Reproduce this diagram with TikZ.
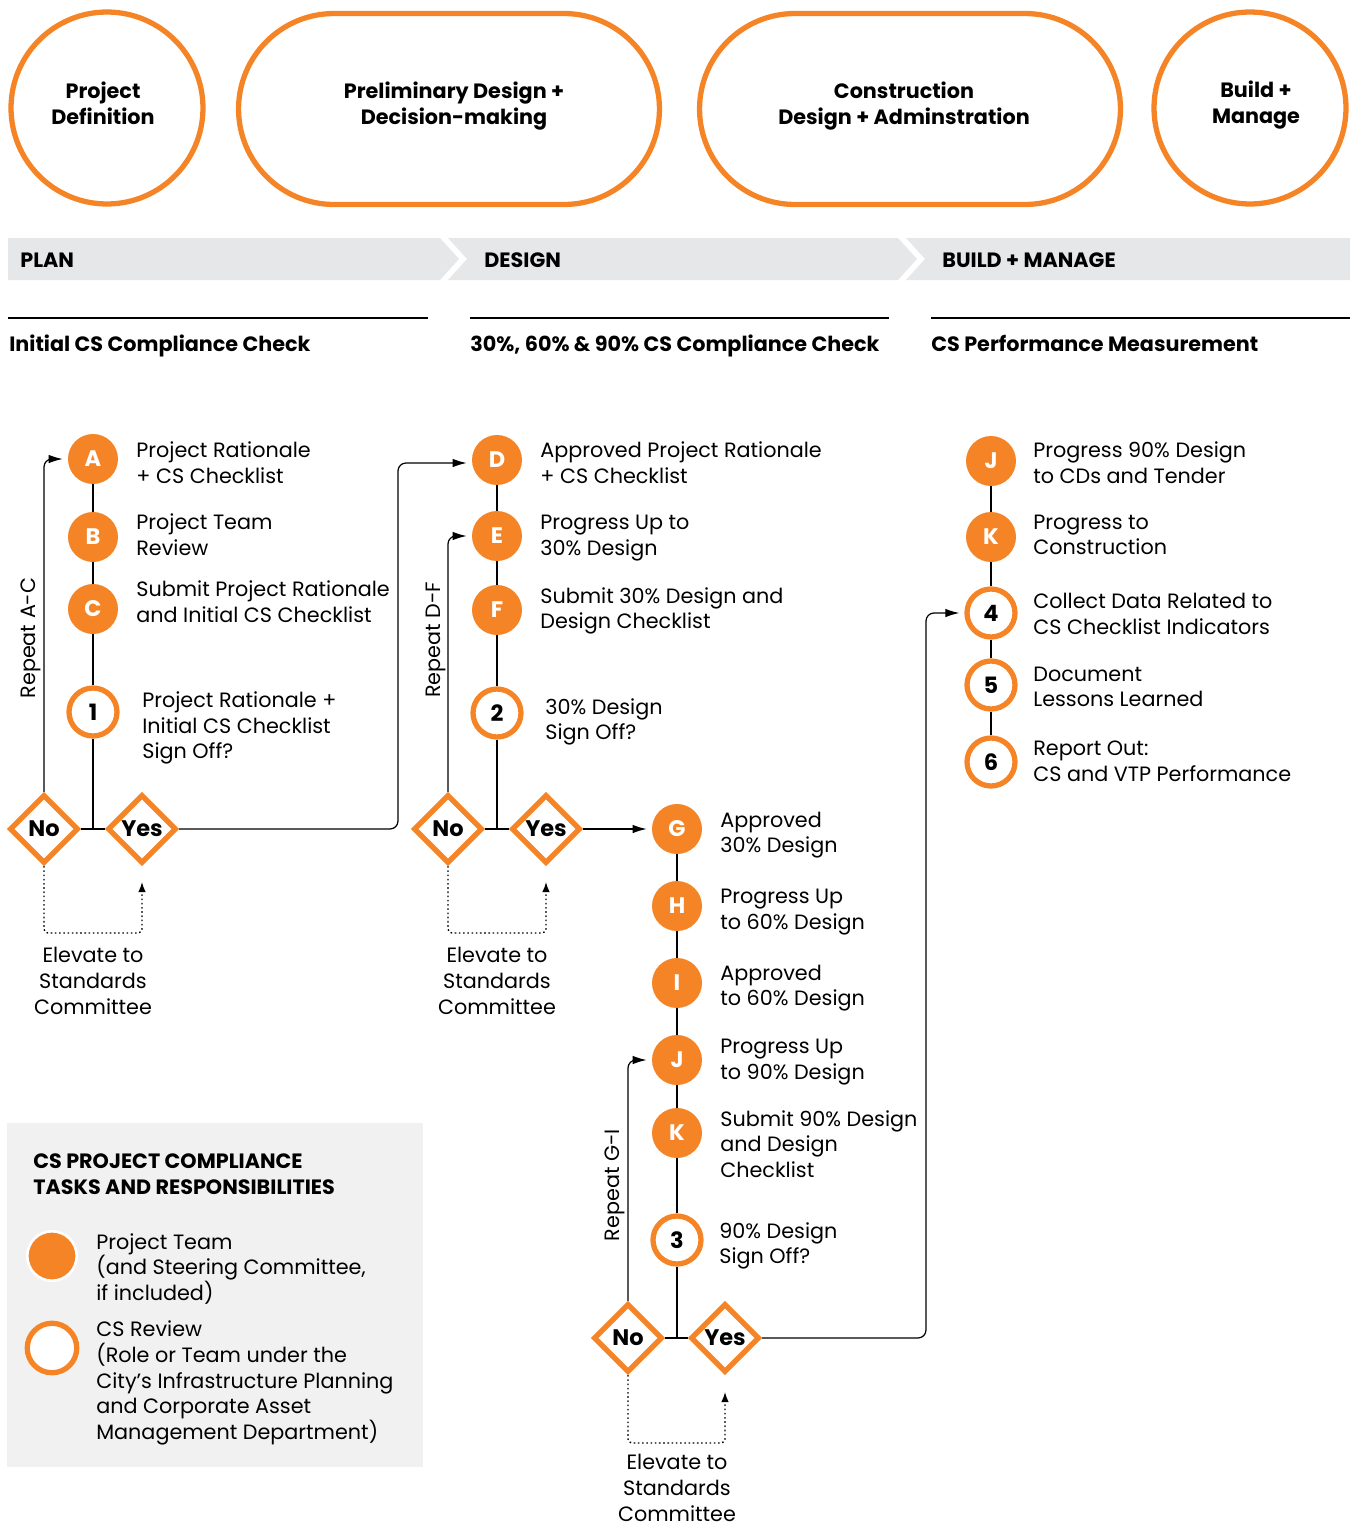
\documentclass[tikz,border=0pt]{standalone}
\usepackage{fontspec}
\setmainfont{Poppins}
\usetikzlibrary{positioning,shapes.geometric,arrows.meta}
\definecolor{csorange}{HTML}{F58426}
\definecolor{band}{HTML}{E6E7E8}
\definecolor{legendbg}{HTML}{F1F1F1}
\newcommand{\bodyfont}{\fontsize{11.8}{14.6}\selectfont}
\newcommand{\markfont}{\bfseries\fontsize{12.8}{14}\selectfont}
\tikzset{
  >={Latex[length=2.8mm,width=1.7mm]},
  task/.style   ={circle, fill=csorange, minimum size=1cm, inner sep=0pt, text=white, font=\markfont},
  review/.style ={circle, draw=csorange, line width=3pt, fill=white, minimum size=0.96cm, inner sep=0pt, font=\markfont},
  choice/.style ={diamond, aspect=1, draw=csorange, line width=3pt, fill=white, minimum size=1.38cm, inner sep=0pt, font=\markfont},
  desc/.style   ={anchor=west, align=left, inner sep=0pt, font=\bodyfont},
  flow/.style   ={line width=0.7pt, rounded corners=1.6mm},
  elev/.style   ={line width=0.8pt, dash pattern=on 0.9pt off 1.5pt, rounded corners=0.8mm, -{Latex[length=2mm,width=1.5mm]}},
  phase/.style  ={draw=csorange, line width=3pt},
  phasetext/.style={align=center, inner sep=0pt, font=\bfseries\bodyfont},
  head/.style   ={anchor=base west, inner sep=0pt, font=\bfseries\bodyfont},
}

\begin{document}
\begin{tikzpicture}[x=0.02cm, y=-0.02cm]
  \useasboundingbox (0,0) rectangle (1352,1528);

  % ---------- phases ----------
  \node[phase, circle, minimum size=3.84cm] (pdef) at (107,108) {};
  \node[phase, rectangle, rounded corners=1.91cm, minimum width=8.42cm, minimum height=3.82cm] (prelim) at (449,109) {};
  \node[phase, rectangle, rounded corners=1.91cm, minimum width=8.42cm, minimum height=3.82cm] (constr) at (910,109) {};
  \node[phase, circle, minimum size=3.84cm] (build) at (1250,108) {};
  \node[phasetext] (tpdef) at (103,103) {Project\\Definition};
  \node[phasetext] (tprelim) at (454,106) {Preliminary Design +\\Decision-making};
  \node[phasetext] (tconstr) at (904,106) {Construction\\Design + Adminstration};
  \node[phasetext] (tbuild) at (1256,105) {Build +\\Manage};

  % ---------- stage band ----------
  \fill[band] (8,238) -- (440,238) -- (459,259) -- (440,280) -- (8,280) -- cycle;
  \fill[band] (448,238) -- (898,238) -- (917,259) -- (898,280) -- (448,280) -- (467,259) -- cycle;
  \fill[band] (906,238) -- (1350,238) -- (1350,280) -- (906,280) -- (925,259) -- cycle;
  \node[head] (plan) at (20,267) {PLAN};
  \node[head] (design) at (484,267) {DESIGN};
  \node[head] (manage) at (942,267) {BUILD + MANAGE};

  \draw[line width=0.7pt] (8,318) -- (428,318);
  \draw[line width=0.7pt] (470,318) -- (889,318);
  \draw[line width=0.7pt] (931,318) -- (1350,318);
  \node[head] (chk1) at (9,351) {Initial CS Compliance Check};
  \node[head] (chk2) at (470,351) {30\%, 60\% \& 90\% CS Compliance Check};
  \node[head] (chk3) at (931,351) {CS Performance Measurement};

  % ---------- Plan column ----------
  \node[task] (A) at (93,459) {A};
  \node[task] (B) at (93,537) {B};
  \node[task] (C) at (93,609) {C};
  \node[review] (r1) at (93,712) {1};
  \node[desc] (tA) at (136,463) {Project Rationale\\+ CS Checklist};
  \node[desc] (tB) at (136,535) {Project Team\\Review};
  \node[desc] (tC) at (136,602) {Submit Project Rationale\\and Initial CS Checklist};
  \node[desc] (t1) at (142,728) {Project Rationale +\\Initial CS Checklist\\Sign Off?};
  \node[choice] (noA) at (44,829) {No};
  \node[choice] (yesA) at (142,829) {Yes};
  \node[rotate=90, inner sep=0pt, font=\bodyfont] (repA) at (31,638) {Repeat A-C};
  \node[align=center, inner sep=0pt, font=\bodyfont] (escA) at (93,981) {Elevate to\\Standards\\Committee};
  \coordinate (upA) at (398,829);
  \coordinate (dipA) at (142,933);
  \coordinate (tipA) at (142,882);

  \draw[flow] (A) -- (B) -- (C) -- (r1) -- (r1 |- noA.east);
  \draw[flow] (noA.east) -- (yesA.west);
  \draw[flow,->,shorten >=0.1cm] (noA.north) |- (A.west);
  \draw[elev] (noA.south) |- (dipA) -- (tipA);

  % ---------- Design column ----------
  \node[task] (D) at (497,460) {D};
  \node[task] (E) at (497,536) {E};
  \node[task] (F) at (497,610) {F};
  \node[review] (r2) at (497,713) {2};
  \node[desc] (tD) at (540,463) {Approved Project Rationale\\+ CS Checklist};
  \node[desc] (tE) at (540,538) {Progress Up to\\30\% Design};
  \node[desc] (tF) at (540,611) {Submit 30\% Design and\\Design Checklist};
  \node[desc] (t2) at (545,722) {30\% Design\\Sign Off?};
  \node[choice] (noD) at (448,829) {No};
  \node[choice] (yesD) at (546,829) {Yes};
  \node[rotate=90, inner sep=0pt, font=\bodyfont] (repD) at (436,640) {Repeat D-F};
  \node[align=center, inner sep=0pt, font=\bodyfont] (escD) at (497,981) {Elevate to\\Standards\\Committee};
  \coordinate (dipD) at (546,933);
  \coordinate (tipD) at (546,882);

  \draw[flow] (D) -- (E) -- (F) -- (r2) -- (r2 |- noD.east);
  \draw[flow] (noD.east) -- (yesD.west);
  \draw[flow,->,shorten >=0.1cm] (noD.north) |- (E.west);
  \draw[elev] (noD.south) |- (dipD) -- (tipD);

  % ---------- 30/60/90 column ----------
  \node[task] (G) at (677,829) {G};
  \node[task] (H) at (677,906) {H};
  \node[task] (I) at (677,983) {I};
  \node[task] (J) at (677,1060) {J};
  \node[task] (K) at (677,1133) {K};
  \node[review] (r3) at (677,1240) {3};
  \node[desc] (tG) at (720,835) {Approved\\30\% Design};
  \node[desc] (tH) at (720,912) {Progress Up\\to 60\% Design};
  \node[desc] (tI) at (720,988) {Approved\\to 60\% Design};
  \node[desc] (tJ) at (720,1062) {Progress Up\\to 90\% Design};
  \node[desc] (tK) at (720,1144) {Submit 90\% Design\\and Design\\Checklist};
  \node[desc] (t3) at (719,1246) {90\% Design\\Sign Off?};
  \node[choice] (noG) at (628,1338) {No};
  \node[choice] (yesG) at (725,1338) {Yes};
  \node[rotate=90, inner sep=0pt, font=\bodyfont] (repG) at (615,1185) {Repeat G-I};
  \node[align=center, inner sep=0pt, font=\bodyfont] (escG) at (677,1488) {Elevate to\\Standards\\Committee};
  \coordinate (upG) at (926,1338);
  \coordinate (dipG) at (725,1443);
  \coordinate (tipG) at (725,1392);

  \draw[flow] (G) -- (H) -- (I) -- (J) -- (K) -- (r3) -- (r3 |- noG.east);
  \draw[flow] (noG.east) -- (yesG.west);
  \draw[flow,->,shorten >=0.1cm] (noG.north) |- (J.west);
  \draw[elev] (noG.south) |- (dipG) -- (tipG);

  % ---------- Build + manage column ----------
  \node[task] (J2) at (991,461) {J};
  \node[task] (K2) at (991,537) {K};
  \node[review] (r4) at (991,613) {4};
  \node[review] (r5) at (991,685) {5};
  \node[review] (r6) at (991,762) {6};
  \node[desc] (tJ2) at (1033,463) {Progress 90\% Design\\to CDs and Tender};
  \node[desc] (tK2) at (1033,535) {Progress to\\Construction};
  \node[desc] (t4) at (1033,614) {Collect Data Related to\\CS Checklist Indicators};
  \node[desc] (t5) at (1033,687) {Document\\Lessons Learned};
  \node[desc] (t6) at (1033,761) {Report Out:\\CS and VTP Performance};
  \draw[flow] (J2) -- (K2) -- (r4) -- (r5) -- (r6);

  % links between the stages
  \draw[flow,->,shorten >=0.1cm] (yesA.east) -- (upA) |- ([yshift=-0.06cm]D.west);
  \draw[flow,->,shorten >=0.1cm] (yesD.east) -- (G.west);
  \draw[flow,->,shorten >=0.1cm] (yesG.east) -- (upG) |- (r4.west);

  % ---------- legend ----------
  \fill[legendbg] (7,1123) rectangle (423,1467);
  \node[desc, font=\bfseries\bodyfont] (keytitle) at (33,1174) {CS PROJECT COMPLIANCE\\TASKS AND RESPONSIBILITIES};
  \node[task, draw=white, line width=1.5pt, minimum size=0.99cm] (keyteam) at (52,1256) {};
  \node[review, minimum size=0.99cm] (keyreview) at (52,1348) {};
  \node[desc] (tkeyteam) at (96,1269) {Project Team\\(and Steering Committee,\\if included)};
  \node[desc] (tkeyreview) at (96,1383) {CS Review\\(Role or Team under the\\City’s Infrastructure Planning\\and Corporate Asset\\Management Department)};
\end{tikzpicture}
\end{document}
